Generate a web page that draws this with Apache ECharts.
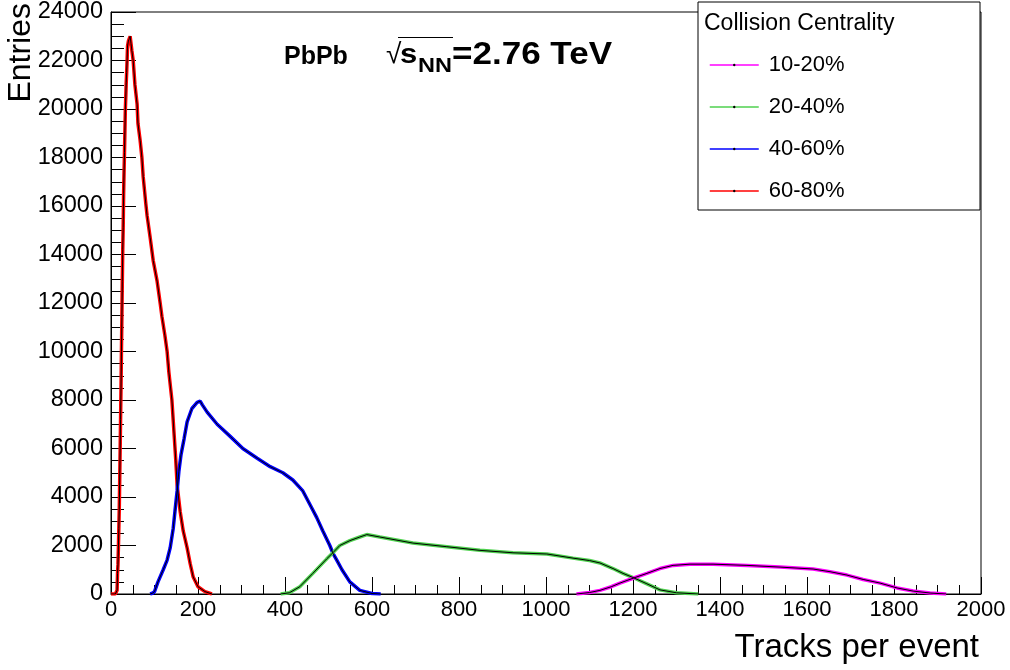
<!DOCTYPE html>
<html><head><meta charset="utf-8">
<script src="https://cdn.jsdelivr.net/npm/echarts@6/dist/echarts.min.js"></script>
<style>html,body{margin:0;padding:0;background:#fff}#c{width:1010px;height:670px}</style>
</head><body><div id="c"></div>
<script>
// Legend / series names
const centralityNames = ['10-20%', '20-40%', '40-60%', '60-80%'];

// 60-80% centrality
const tracks6080 = [0,10,13,14,15,16,17,18,19,20,21,22,23,24,25,26,27,28,29,30,31,32,33,34,35,36,37,38,40,42,44,46,48,51,55,60,62,67,71,74,80,83,90,97,106,113,117,124,129,133,140,145,149,152,159,166,175,182,189,200,216,232];
const entries6080 = [0,0,0,150,850,1200,1900,2700,3500,4700,5900,7200,8500,10000,11400,12900,14200,15100,16500,17400,18200,19100,20000,20500,21100,21500,22000,22600,22800,22900,23000,22700,22400,22000,21000,20200,19400,18700,18000,17200,16100,15600,14700,13750,12900,12000,11450,10650,10000,9150,8000,6600,5500,4500,3400,2600,1900,1250,700,300,100,0];

// 40-60% centrality
const tracks4060 = [90,95,100,108,120,129,136,143,147,152,156,161,168,175,186,198,205,210,221,244,274,303,336,366,395,418,441,457,473,487,503,511,519,531,549,572,600,620];
const entries4060 = [0,30,100,500,1000,1400,1900,2700,3400,4250,5050,5750,6400,7100,7650,7900,7950,7800,7500,7000,6500,6000,5600,5250,5000,4700,4250,3700,3150,2600,2000,1650,1400,1000,500,150,20,0];

// 20-40% centrality
const tracks2040 = [390,410,434,464,496,510,526,549,572,588,618,694,772,848,924,1002,1062,1100,1124,1154,1177,1200,1232,1262,1300,1350];
const entries2040 = [0,50,300,850,1450,1700,2000,2200,2350,2450,2350,2100,1950,1800,1700,1650,1480,1380,1280,1050,850,680,420,170,50,0];

// 10-20% centrality
const tracks1020 = [1070,1100,1124,1150,1170,1200,1232,1262,1292,1331,1384,1462,1538,1614,1653,1692,1729,1768,1807,1844,1883,1920];
const entries1020 = [0,60,150,300,450,650,850,1050,1180,1230,1230,1180,1110,1030,920,780,600,450,250,120,40,0];

// Axis ranges / ticks
const xMin = 0, xMax = 2000, xStep = 200;
const yMin = 0, yMax = 24000, yStep = 2000;

const FONT = "'Liberation Sans', Arial, Helvetica, sans-serif";
const colors = {'10-20%': '#ff00ff', '20-40%': '#4fd14f', '40-60%': '#0000ff', '60-80%': '#ff0000'};
const seriesData = {
  '10-20%': [tracks1020, entries1020],
  '20-40%': [tracks2040, entries2040],
  '40-60%': [tracks4060, entries4060],
  '60-80%': [tracks6080, entries6080]
};
function pairs(xs, ys) { return xs.map((x, i) => [x, ys[i]]); }

const drawOrder = ['60-80%', '40-60%', '20-40%', '10-20%'];
const series = [];
drawOrder.forEach(name => {
  const d = pairs(seriesData[name][0], seriesData[name][1]);
  series.push({
    name: name, type: 'line', data: d, showSymbol: false, symbol: 'circle', symbolSize: 2,
    itemStyle: {color: '#000'}, lineStyle: {color: colors[name], width: 3.5}, z: 2, silent: true, animation: false
  });
});
drawOrder.forEach(name => {
  const d = pairs(seriesData[name][0], seriesData[name][1]);
  series.push({
    name: 'core ' + name, type: 'line', data: d, showSymbol: false, symbol: 'none',
    lineStyle: {color: '#000', width: 1}, z: 3, silent: true, animation: false
  });
});

const chart = echarts.init(document.getElementById('c'), null, {renderer: 'canvas'});
chart.setOption({
  animation: false,
  backgroundColor: '#fff',
  grid: {left: 111, right: 29, top: 6, bottom: 76, show: true, borderColor: '#000', borderWidth: 1, backgroundColor: 'transparent'},
  xAxis: {
    type: 'value', min: xMin, max: xMax, interval: xStep,
    axisLine: {show: true, onZero: false, lineStyle: {color: '#000', width: 1}},
    axisTick: {show: true, inside: true, length: 17, lineStyle: {color: '#000', width: 1}},
    minorTick: {show: true, splitNumber: 4, length: 9, lineStyle: {color: '#000', width: 1}},
    axisLabel: {fontSize: 22, color: '#000', fontFamily: FONT, margin: 5, formatter: v => String(v)},
    splitLine: {show: false}, minorSplitLine: {show: false}
  },
  yAxis: {
    type: 'value', min: yMin, max: yMax, interval: yStep,
    axisLine: {show: true, lineStyle: {color: '#000', width: 1}},
    axisTick: {show: true, inside: true, length: 25, lineStyle: {color: '#000', width: 1}},
    minorTick: {show: true, splitNumber: 4, length: 13, lineStyle: {color: '#000', width: 1}},
    axisLabel: {fontSize: 23.5, color: '#000', fontFamily: FONT, margin: 8, formatter: v => String(v)},
    splitLine: {show: false}, minorSplitLine: {show: false}
  },
  legend: {
    data: centralityNames, orient: 'vertical', left: 704, top: 47,
    itemWidth: 49, itemHeight: 3, itemGap: 16, z: 10,
    lineStyle: {width: 1.5},
    textStyle: {fontSize: 22, color: '#000', fontFamily: FONT, lineHeight: 26, padding: [0, 0, 0, 5]},
    selectedMode: false
  },
  graphic: [
    {type: 'rect', z: 5, shape: {x: 698, y: 2, width: 282, height: 208}, style: {fill: '#fff', stroke: '#000', lineWidth: 1}},
    {type: 'text', z: 6, x: 704, y: 24, style: {text: 'Collision Centrality', font: '23px ' + FONT, fill: '#000', textVerticalAlign: 'middle'}},
    {type: 'text', z: 6, x: 5, y: 3, rotation: Math.PI / 2, style: {text: 'Entries', font: '32px ' + FONT, fill: '#000', textAlign: 'right', textVerticalAlign: 'top'}},
    {type: 'text', z: 6, x: 979, y: 648, style: {text: 'Tracks per event', font: '33px ' + FONT, fill: '#000', textAlign: 'right', textVerticalAlign: 'middle'}},
    {type: 'text', z: 6, x: 284, y: 57, style: {text: 'PbPb', font: 'bold 25px ' + FONT, fill: '#000', textVerticalAlign: 'middle'}},
    {type: 'text', z: 6, x: 386, y: 55, style: {text: '√', font: '28px ' + FONT, fill: '#000', textVerticalAlign: 'middle'}},
    {type: 'line', z: 6, shape: {x1: 398, y1: 37.5, x2: 453, y2: 37.5}, style: {stroke: '#000', lineWidth: 1.2}},
    {type: 'text', z: 6, x: 400, y: 56, scaleX: 1.15, style: {text: 's', font: 'bold 27px ' + FONT, fill: '#000', textVerticalAlign: 'middle'}},
    {type: 'text', z: 6, x: 418, y: 66, scaleX: 1.12, style: {text: 'NN', font: 'bold 21px ' + FONT, fill: '#000', textVerticalAlign: 'middle'}},
    {type: 'text', z: 6, x: 452, y: 55, scaleX: 1.13, style: {text: '=2.76 TeV', font: 'bold 31px ' + FONT, fill: '#000', textVerticalAlign: 'middle'}}
  ],
  series: series
});
</script></body></html>
